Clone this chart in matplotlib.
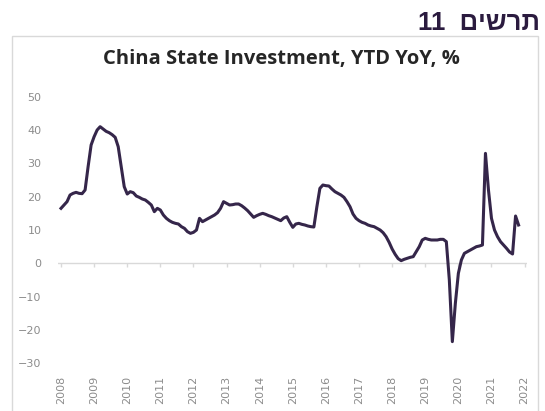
import matplotlib.pyplot as plt
from matplotlib.patches import Rectangle

# YTD YoY growth, one value per report month (Jan-Feb combined), Feb 2008 onwards
state_investment = [
    16.5, 17.5, 18.5, 20.5, 21.0, 21.3, 21.0, 20.9, 22.0, 29.0, 35.5,
    38.0, 40.0, 41.0, 40.3, 39.6, 39.2, 38.6, 37.8, 35.0, 29.0, 23.0,
    20.8, 21.5, 21.2, 20.2, 19.8, 19.3, 19.0, 18.3, 17.5, 15.5, 16.5,
    16.0, 14.5, 13.5, 12.8, 12.3, 12.0, 11.8, 11.0, 10.5, 9.5, 9.0,
    9.3, 10.0, 13.5, 12.5, 13.0, 13.5, 14.0, 14.5, 15.2, 16.5, 18.5,
    18.0, 17.5, 17.6, 17.8, 17.8, 17.3, 16.6, 15.8, 14.8, 13.8, 14.3,
    14.7, 15.0, 14.7, 14.3, 14.0, 13.6, 13.2, 12.8, 13.6, 14.0, 12.3,
    10.8, 11.8, 12.0, 11.7, 11.5, 11.2, 11.0, 10.9, 17.0, 22.5, 23.5,
    23.3, 23.2, 22.3, 21.5, 21.0, 20.5, 19.8, 18.5, 17.0, 14.8, 13.5,
    12.8, 12.3, 12.0, 11.5, 11.2, 11.0, 10.5, 10.0, 9.2, 8.0, 6.3,
    4.3, 2.7, 1.4, 0.8, 1.2, 1.5, 1.8, 2.0, 3.5, 5.0, 7.0,
    7.5, 7.2, 7.0, 7.0, 7.0, 7.2, 7.2, 6.5, -5.0, -23.5, -12.0,
    -3.0, 1.0, 3.0, 3.5, 4.0, 4.5, 5.0, 5.2, 5.5, 33.0, 22.0,
    13.5, 10.0, 8.0, 6.5, 5.5, 4.5, 3.4, 2.8, 14.2, 11.5,
]
years = list(range(2008, 2023))
months_per_year = 11
year_pos = [k * months_per_year for k in range(len(years))]
y_ticks = [-30, -20, -10, 0, 10, 20, 30, 40, 50]

heading = 'תרשים 11'
title = 'China State Investment, YTD YoY, %'


def visual_order(s):
    # matplotlib has no bidi support: reverse the Hebrew words, keep digits
    words = s.split(' ')
    out = []
    for w in reversed(words):
        if any('\u0590' <= ch <= '\u05ff' for ch in w):
            out.append(w[::-1])
        else:
            out.append(w)
    return '  '.join(out)


W, H = 545, 411
fig = plt.figure(figsize=(W / 100, H / 100), dpi=100)
fig.patch.set_facecolor('white')

# chart frame
fig.patches.append(Rectangle((12 / W, -0.01), 526 / W, 1 - 36 / H + 0.01,
                             transform=fig.transFigure, fill=False,
                             edgecolor='#d9d9d9', linewidth=1.0))

fig.text(540 / W, 1 - 23 / H, visual_order(heading), ha='right', va='center',
         fontsize=18.5, fontweight='bold', color='#2b1b3f',
         family=['Liberation Sans', 'DejaVu Sans'])
fig.text(281 / W, 1 - 59 / H, title, ha='center', va='center',
         fontsize=14.5, fontweight='bold', color='#262626', family='Open Sans')

ax = fig.add_axes([58 / W, 1 - 363.3 / H, 469 / W, (363.3 - 96.7) / H])
x = list(range(len(state_investment)))
ax.plot(x, state_investment, color='#35264a', linewidth=2.2, solid_joinstyle='round')

ax.axhline(0, color='#d9d9d9', linewidth=1.0, zorder=0)
ax.vlines(year_pos, -1.0, 0, color='#d9d9d9', linewidth=1.0, zorder=0)

ax.set_xlim(-1, 154.8)
ax.set_ylim(-30, 50)
ax.set_xticks(year_pos)
ax.set_xticklabels([str(y) for y in years], rotation=90)
ax.set_yticks(y_ticks)
ax.tick_params(axis='x', length=0, pad=9, labelsize=8, labelcolor='#8c8c8c')
ax.tick_params(axis='y', length=0, pad=12, labelsize=8, labelcolor='#8c8c8c')
for s in ax.spines.values():
    s.set_visible(False)

fig.savefig('out.png', dpi=100)
